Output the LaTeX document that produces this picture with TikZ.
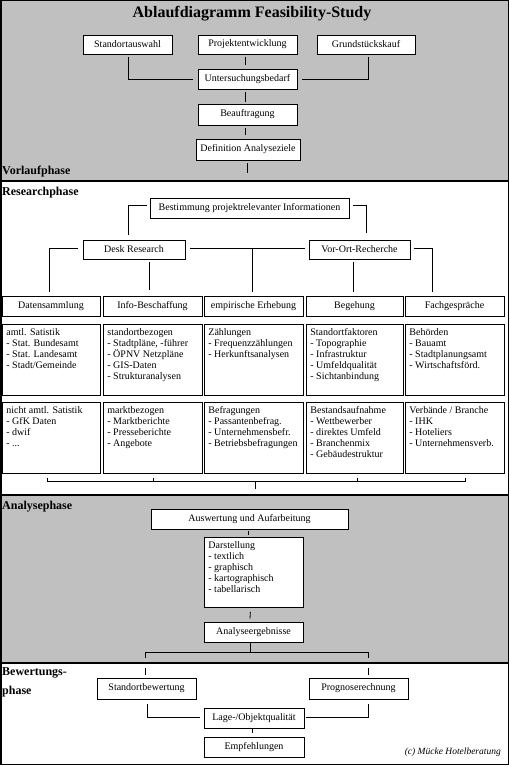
\documentclass[tikz,border=0pt]{standalone}
\usepackage{fontspec}
\setmainfont{Liberation Serif}
\usetikzlibrary{calc}
\definecolor{panelgray}{RGB}{192,192,192}
\newcommand{\celltext}[3]{\parbox[c][#2][t]{#1}{\raggedright\rule{0pt}{11.5pt}#3}}
\begin{document}
\begin{tikzpicture}[x=1pt,y=-1pt,
  box/.style={draw, fill=white, line width=0.8pt, inner sep=0pt, align=center, font=\fontsize{10}{11}\selectfont},
  detail/.style={draw, fill=white, line width=0.8pt, inner xsep=4pt, inner ysep=0pt, anchor=north west, font=\fontsize{10}{11}\selectfont},
  conn/.style={line width=0.8pt},
  panelline/.style={line width=1.5pt},
  phase/.style={font=\bfseries\fontsize{12}{14}\selectfont, anchor=west, inner sep=0pt, align=left},
]
\useasboundingbox (0,0) rectangle (509,765);
% panels
\fill[panelgray] (0,0) rectangle (509,181);
\fill[white] (0,181) rectangle (509,495);
\fill[panelgray] (0,495) rectangle (509,663);
\fill[white] (0,663) rectangle (509,765);
\draw[panelline] (0,181) -- (509,181);
\draw[panelline] (0,495) -- (509,495);
\draw[panelline] (0,663) -- (509,663);
\draw[panelline] (0.75,0.75) rectangle (508.25,764.25);

% title and phase labels
\node[font=\bfseries\fontsize{16}{18}\selectfont] (title) at (252,14) {Ablaufdiagramm Feasibility-Study};
\node[phase] (lvor) at (2,172) {Vorlaufphase};
\node[phase] (lres) at (2,193) {Researchphase};
\node[phase] (lana) at (2,507) {Analysephase};
\node[phase, font=\bfseries\fontsize{12}{19}\selectfont] (lbew) at (2,682.5) {Bewertungs-\\phase};
\node[anchor=east, font=\itshape\fontsize{9.5}{11}\selectfont, inner sep=0pt] (copy) at (501,752) {(c) Mücke Hotelberatung};

% Vorlaufphase
\node[box, minimum width=89pt, minimum height=19pt] (std) at (127.5,44.5) {Standortauswahl};
\node[box, minimum width=99pt, minimum height=19pt] (proj) at (247.5,44.5) {Projektentwicklung};
\node[box, minimum width=98pt, minimum height=19pt] (grund) at (366,44.5) {Grundstückskauf};
\node[box, minimum width=99pt, minimum height=20pt] (unt) at (247.5,79) {Untersuchungsbedarf};
\node[box, minimum width=99pt, minimum height=21pt] (beauf) at (247.5,114.5) {Beauftragung};
\node[box, minimum width=104pt, minimum height=21pt] (def) at (248,149.5) {Definition Analyseziele};
\coordinate (defend) at (248,173);

\draw[conn] ($(std.south)+(0.5,3)$) |- ($(unt.west)+(-5,0)$);
\draw[conn] ($(grund.south)+(2,3)$) |- ($(unt.east)+(5,0)$);
\draw[conn] ($(proj.south)+(-2.5,3)$) -- ($(unt.north)+(-2.5,-4)$);
\draw[conn] ($(unt.south)+(-2.5,3)$) -- ($(beauf.north)+(-2.5,-2)$);
\draw[conn] ($(beauf.south)+(-2.5,3)$) -- ($(def.north)+(-3,-4)$);
\draw[conn] ($(def.south)+(-1,3)$) -- ($(def.south |- defend)+(-1,0)$);

% Researchphase
\node[box, minimum width=199pt, minimum height=20pt] (best) at (249.5,208) {Bestimmung projektrelevanter Informationen};
\node[box, minimum width=102pt, minimum height=19pt] (desk) at (134,249.5) {Desk Research};
\node[box, minimum width=101pt, minimum height=19pt] (vor) at (359.5,249.5) {Vor-Ort-Recherche};

\node[box, minimum width=98pt, minimum height=20pt] (daten) at (51,306) {Datensammlung};
\node[box, minimum width=99pt, minimum height=20pt] (info) at (152.5,306) {Info-Beschaffung};
\node[box, minimum width=99pt, minimum height=20pt] (emp) at (253.5,306) {empirische Erhebung};
\node[box, minimum width=97pt, minimum height=20pt] (beg) at (354.5,306) {Begehung};
\node[box, minimum width=99pt, minimum height=20pt] (fach) at (454.5,306) {Fachgespräche};

\node[detail] (d1) at (2,324) {\celltext{90pt}{71pt}{amtl. Satistik\\- Stat. Bundesamt\\- Stat. Landesamt\\- Stadt/Gemeinde}};
\node[detail] (i1) at (103,324) {\celltext{91pt}{71pt}{standortbezogen\\- Stadtpläne, -führer\\- ÖPNV Netzpläne\\- GIS-Daten\\- Strukturanalysen}};
\node[detail] (e1) at (204,324) {\celltext{91pt}{71pt}{Zählungen\\- Frequenzzählungen\\- Herkunftsanalysen}};
\node[detail] (b1) at (306,324) {\celltext{89pt}{71pt}{Standortfaktoren\\- Topographie\\- Infrastruktur\\- Umfeldqualität\\- Sichtanbindung}};
\node[detail] (f1) at (405,324) {\celltext{91pt}{71pt}{Behörden\\- Bauamt\\- Stadtplanungsamt\\- Wirtschaftsförd.}};

\node[detail] (d2) at (2,402) {\celltext{90pt}{71pt}{nicht amtl. Satistik\\- GfK Daten\\- dwif\\- ...}};
\node[detail] (i2) at (103,402) {\celltext{91pt}{71pt}{marktbezogen\\- Marktberichte\\- Presseberichte\\- Angebote}};
\node[detail] (e2) at (204,402) {\celltext{91pt}{71pt}{Befragungen\\- Passantenbefrag.\\- Unternehmensbefr.\\- Betriebsbefragungen}};
\node[detail] (b2) at (306,402) {\celltext{89pt}{71pt}{Bestandsaufnahme\\- Wettbewerber\\- direktes Umfeld\\- Branchenmix\\- Gebäudestruktur}};
\node[detail] (f2) at (405,402) {\celltext{91pt}{71pt}{Verbände / Branche\\- IHK\\- Hoteliers\\- Unternehmensverb.}};

\draw[conn] ($(best.west)+(-3,-3)$) -| ($(desk.north)+(-6,-5)$);
\draw[conn] ($(best.east)+(4,-3)$) -| ($(vor.north)+(6.5,-7)$);
\draw[conn] ($(desk.west)+(-5,-1.5)$) -| ($(daten.north)+(-2,-4)$);
\draw[conn] ($(info.north |- desk.south)+(-3.5,3)$) -- ($(info.north)+(-3.5,-6)$);
\draw[conn] ($(desk.east)+(5,-1.5)$) -- ($(vor.west)+(-4,-1.5)$);
\draw[conn] ($(emp.north |- desk.east)+(-1.5,-1.5)$) -- ($(emp.north)+(-1.5,-4)$);
\draw[conn] ($(vor.east)+(4,-1.5)$) -| ($(fach.north)+(-22.5,-4)$);
\draw[conn] ($(beg.north |- vor.south)+(-1.5,3)$) -- ($(beg.north)+(-1.5,-4)$);

\coordinate (brC) at (255,481);
\draw[conn] ($(d2.south)+(-4,4)$) |- ($(f2.south)+(10.5,8)$) -- ($(f2.south)+(10.5,4)$);
\draw[conn] ($(i2.south)+(0,4)$) -- ($(i2.south)+(0,8)$);
\draw[conn] ($(b2.south)+(2.5,4)$) -- ($(b2.south)+(2.5,8)$);
\draw[conn] (brC) -- ++(0,8);

% Analysephase
\node[box, minimum width=197pt, minimum height=20pt] (ausw) at (249.5,519) {Auswertung und Aufarbeitung};
\node[detail] (darst) at (204,537) {\celltext{91pt}{70pt}{Darstellung\\- textlich\\- graphisch\\- kartographisch\\- tabellarisch}};
\node[box, minimum width=99pt, minimum height=20pt] (erg) at (253.5,632) {Analyseergebnisse};

\draw[conn] ($(ausw.south)+(-1.5,2)$) -- ($(darst.north -| ausw.south)+(-1.5,-2)$);
\draw[conn] ($(darst.south)+(-3.5,4)$) -- ($(erg.north)+(-3.5,-3)$);
\draw[conn] ($(erg.south)+(-3.5,0.5)$) -- ($(erg.south)+(-3.5,11)$);

% Bewertungsphase
\node[box, minimum width=99pt, minimum height=21pt] (sb) at (146.5,688.5) {Standortbewertung};
\node[box, minimum width=99pt, minimum height=21pt] (pr) at (358.5,688.5) {Prognoserechnung};
\node[box, minimum width=100pt, minimum height=20pt] (lage) at (254,718) {Lage-/Objektqualität};
\node[box, minimum width=100pt, minimum height=20pt] (empf) at (254,747) {Empfehlungen};

\draw[conn] ($(sb.north)+(-1.5,-20)$) |- ($(pr.north)+(9.5,-25)$) -- ($(pr.north)+(9.5,-20)$);
\draw[conn] ($(sb.north)+(-1.5,-10)$) -- ($(sb.north)+(-1.5,-3)$);
\draw[conn] ($(pr.north)+(9.5,-10)$) -- ($(pr.north)+(9.5,-3)$);
\draw[conn] ($(sb.south)+(0.5,5)$) |- ($(lage.west)+(-4,-1)$);
\draw[conn] ($(pr.south)+(9.5,5)$) |- ($(lage.east)+(2,-1)$);
\draw[conn] ($(lage.south)+(-2,0)$) -- ($(empf.north)+(-2,-4)$);
\end{tikzpicture}
\end{document}
